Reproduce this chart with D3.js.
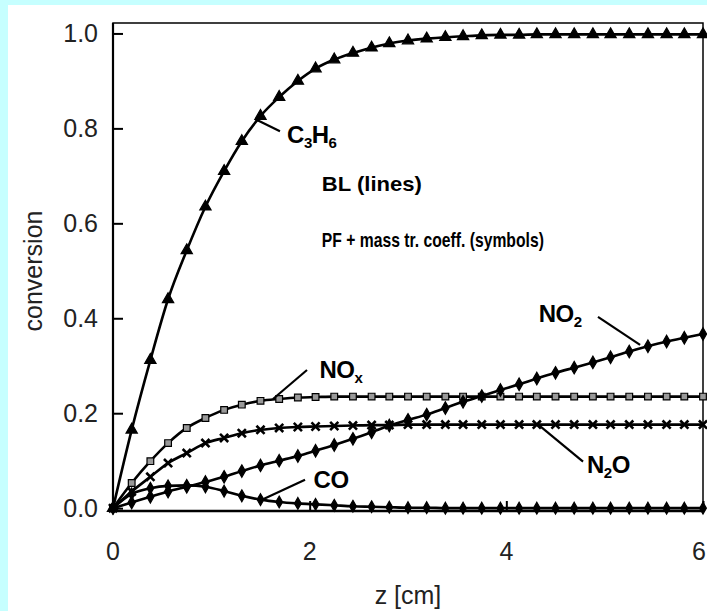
<!DOCTYPE html>
<html>
	<head>
		<meta charset="utf-8">
		<title>conversion vs z</title>
		<script src="https://cdn.jsdelivr.net/npm/d3@7"></script>
		<style>
			body { margin: 0; background: #c6ffff; }
			text { font-family: "Liberation Sans", Arial, sans-serif; }
		</style>
	</head>
	<body>
		<div id='viz'></div>
		<script>
			var width = 707,
				height = 611;

			// axial position of the symbols [cm]
			var zValues = [0,0.19,0.38,0.56,0.75,0.94,1.13,1.31,1.5,1.69,1.88,2.06,2.25,2.44,2.63,2.81,3.0,3.19,3.38,3.56,3.75,3.94,4.13,4.31,4.5,4.69,4.88,5.06,5.25,5.44,5.63,5.81,6.0];
			var c3h6 = [0,0.165,0.312,0.44,0.543,0.635,0.71,0.773,0.826,0.866,0.9,0.926,0.945,0.959,0.97,0.979,0.985,0.989,0.992,0.994,0.996,0.997,0.997,0.998,0.998,0.998,0.998,0.998,0.998,0.998,0.998,0.998,0.998];
			var nox = [0,0.053,0.099,0.137,0.169,0.19,0.207,0.218,0.226,0.23,0.233,0.234,0.235,0.235,0.235,0.235,0.235,0.235,0.235,0.235,0.235,0.235,0.235,0.235,0.235,0.235,0.235,0.235,0.235,0.235,0.235,0.235,0.235];
			var n2o = [0,0.035,0.066,0.095,0.116,0.137,0.148,0.158,0.165,0.169,0.171,0.172,0.173,0.174,0.175,0.175,0.176,0.176,0.176,0.176,0.176,0.176,0.176,0.176,0.176,0.176,0.176,0.176,0.176,0.176,0.176,0.176,0.176];
			var no2 = [0,0.012,0.024,0.035,0.045,0.055,0.066,0.078,0.09,0.1,0.11,0.121,0.133,0.146,0.16,0.174,0.186,0.197,0.211,0.224,0.236,0.249,0.261,0.273,0.285,0.296,0.307,0.318,0.33,0.341,0.351,0.359,0.367];
			var co = [0,0.03,0.042,0.047,0.048,0.045,0.036,0.026,0.018,0.013,0.01,0.008,0.006,0.004,0.003,0.002,0.001,0.001,0,0,0,0,0,0,0,0,0,0,0,0,0,0,0];

			var xTicks = [0,2,4,6];
			var yTicks = [0,0.2,0.4,0.6,0.8,1.0];

			// curve labels: [name, sub, tail, sub, z, conv, leader z1, c1, z2, c2]
			var labels = [
				['C','3','H','6', 1.77, 0.77, 1.444, 0.82, 1.698, 0.794],
				['NO','x','','', 2.1, 0.275, 1.627, 0.23, 1.973, 0.291],
				['NO','2','','', 4.33, 0.393, 4.932, 0.403, 5.36, 0.344],
				['N','2','O','', 4.82, 0.075, 4.312, 0.178, 4.78, 0.098],
				['CO','','','', 2.04, 0.043, 1.515, 0.0175, 1.953, 0.06]
			];

			var svg = d3.select('#viz')
				.append('svg')
				.attr('width', width)
				.attr('height', height);

			svg.append('rect')
				.attr('x', 8).attr('y', 5)
				.attr('width', width - 8).attr('height', height - 5)
				.attr('fill', '#fff');

			var x = d3.scaleLinear().domain([0, 6]).range([113, 703]);
			var y = d3.scaleLinear().domain([-0.006, 1.022]).range([511, 23]);

			// frame
			svg.append('rect')
				.attr('x', x(0)).attr('y', y(1.022))
				.attr('width', x(6) - x(0)).attr('height', y(-0.006) - y(1.022))
				.attr('fill', 'none').attr('stroke', '#000').attr('stroke-width', 1.5);

			// y axis, ticks pointing inwards
			var yAxis = svg.append('g').attr('transform', `translate(${x(0)},0)`);
			yAxis.call(d3.axisRight(y).tickValues(d3.range(0, 1.001, 0.04)).tickSize(7).tickFormat(''));
			yAxis.call(d3.axisRight(y).tickValues(yTicks).tickSize(10).tickFormat(''));
			yAxis.selectAll('.domain').remove();
			yAxis.selectAll('line').attr('stroke-width', 2);
			svg.append('line')
				.attr('x1', x(0)).attr('x2', x(0)).attr('y1', y(1.022)).attr('y2', y(-0.006))
				.attr('stroke', '#000').attr('stroke-width', 2.2);
			svg.append('g').selectAll('text')
				.data(yTicks).join('text')
				.attr('x', x(0) - 15).attr('y', d => y(d) + 9)
				.attr('text-anchor', 'end')
				.attr('font-size', 25)
				.attr('fill', '#222')
				.text(d => d3.format('.1f')(d));

			// x axis
			var xAxis = svg.append('g').attr('transform', `translate(0,${y(-0.006)})`);
			xAxis.call(d3.axisTop(x).tickValues(d3.range(0, 6.001, 0.4)).tickSize(7).tickFormat(''));
			xAxis.call(d3.axisTop(x).tickValues(xTicks).tickSize(10).tickFormat(''));
			xAxis.selectAll('.domain').remove();
			xAxis.selectAll('line').attr('stroke-width', 2);
			svg.append('line')
				.attr('x1', x(0)).attr('x2', x(6)).attr('y1', y(-0.006)).attr('y2', y(-0.006))
				.attr('stroke', '#000').attr('stroke-width', 2.5);
			svg.append('g').selectAll('text')
				.data(xTicks).join('text')
				.attr('x', d => Math.min(x(d), 699)).attr('y', 560)
				.attr('text-anchor', 'middle')
				.attr('font-size', 25)
				.attr('fill', '#222')
				.text(d => d);

			svg.append('text')
				.attr('x', 408).attr('y', 604)
				.attr('text-anchor', 'middle')
				.attr('font-size', 25).attr('fill', '#222')
				.text('z [cm]');
			svg.append('text')
				.attr('transform', 'translate(42,271) rotate(-90)')
				.attr('text-anchor', 'middle')
				.attr('font-size', 25).attr('fill', '#222')
				.text('conversion');

			// curves + symbols
			var series = [
				{v: c3h6, sym: d3.symbolTriangle, size: 55, fill: '#000'},
				{v: nox, sym: d3.symbolSquare, size: 45, fill: '#999'},
				{v: n2o, sym: d3.symbolX, size: 45, fill: 'none'},
				{v: no2, sym: d3.symbolDiamond, size: 45, fill: '#000'},
				{v: co, sym: d3.symbolDiamond, size: 40, fill: '#000'}
			];
			var line = d3.line().x((d, i) => x(zValues[i])).y(d => y(d)).curve(d3.curveMonotoneX);

			series.forEach(s => {
				svg.append('path')
					.attr('d', line(s.v))
					.attr('fill', 'none')
					.attr('stroke', '#000')
					.attr('stroke-width', 2.6);
				svg.append('g').selectAll('path')
					.data(s.v).join('path')
					.attr('transform', (d, i) => `translate(${x(zValues[i])},${y(d)})`)
					.attr('d', d3.symbol().type(s.sym).size(s.size))
					.attr('fill', s.fill)
					.attr('stroke', '#000')
					.attr('stroke-width', s.fill == 'none' ? 2.6 : 1.2);
			});

			// leader lines and labels
			svg.append('g').selectAll('line')
				.data(labels).join('line')
				.attr('x1', d => x(d[6])).attr('y1', d => y(d[7]))
				.attr('x2', d => x(d[8])).attr('y2', d => y(d[9]))
				.attr('stroke', '#000').attr('stroke-width', 2.2);

			var lab = svg.append('g').selectAll('text')
				.data(labels).join('text')
				.attr('x', d => x(d[4])).attr('y', d => y(d[5]))
				.attr('font-size', 24).attr('font-weight', 'bold')
				.attr('letter-spacing', -0.5);
			lab.append('tspan').text(d => d[0]);
			lab.append('tspan').attr('font-size', 15).attr('dy', 5).text(d => d[1]);
			lab.append('tspan').attr('dy', -5).text(d => d[2]);
			lab.append('tspan').attr('font-size', 15).attr('dy', 5).text(d => d[3]);

			svg.append('text')
				.attr('x', x(2.124)).attr('y', y(0.668))
				.attr('font-size', 21).attr('font-weight', 'bold')
				.attr('textLength', 100).attr('lengthAdjust', 'spacingAndGlyphs')
				.text('BL (lines)');
			svg.append('text')
				.attr('x', x(2.124)).attr('y', y(0.55))
				.attr('font-size', 21).attr('font-weight', 'bold')
				.attr('textLength', 222).attr('lengthAdjust', 'spacingAndGlyphs')
				.text('PF + mass tr. coeff. (symbols)');
		</script>
	</body>
</html>
